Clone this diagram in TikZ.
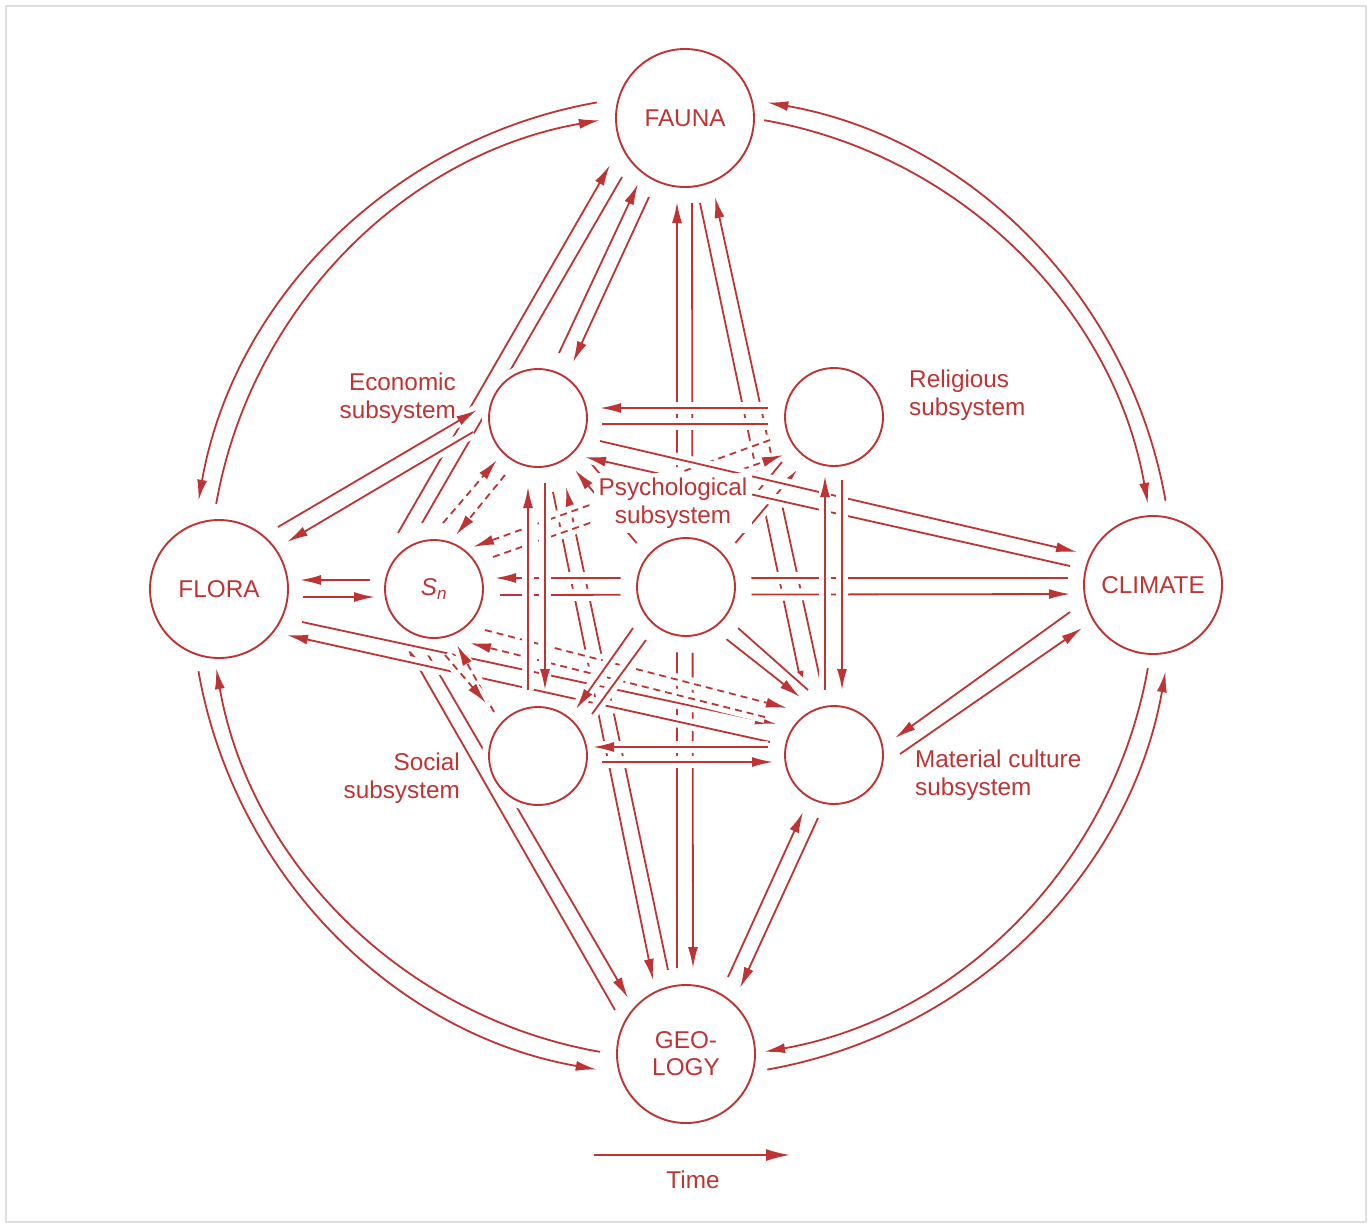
\documentclass[tikz,border=0pt]{standalone}
\usepackage{fontspec}
\setmainfont{Liberation Sans}
\usetikzlibrary{calc,arrows.meta}
\definecolor{rd}{RGB}{190,52,52}
\pgfdeclarelayer{bg}
\pgfsetlayers{bg,main}
\newcommand\mkcirc[6][]{%
  \node[circ,minimum size=#5pt,#1] (#2) at (#3,#4) {#6};%
  \expandafter\gdef\csname nX#2\endcsname{#3}%
  \expandafter\gdef\csname nY#2\endcsname{#4}}
\newcommand\lnkx[7][]{\draw[lnk,#1] ($(#2)+({#3-\csname nX#2\endcsname},{#4-\csname nY#2\endcsname})$) -- ($(#5)+({#6-\csname nX#5\endcsname},{#7-\csname nY#5\endcsname})$);}
\tikzset{
 circ/.style={circle, draw=rd, line width=1.9pt, fill=white, inner sep=0pt, text=rd,
   font=\fontsize{24.3}{27}\selectfont, align=center, preaction={draw=white, line width=14pt}},
 lnk/.style={draw=rd, line width=1.8pt, preaction={draw=white, line width=12pt, -}},
 ar/.style={-{Latex[length=21pt,width=10pt]}},
 dsh/.style={dash pattern=on 7pt off 5pt},
 lbl/.style={text=rd, font=\fontsize{24.3}{27.5}\selectfont, inner sep=0pt},
}
\begin{document}
\begin{tikzpicture}[x=1pt,y=-1pt]
\useasboundingbox (0,0) rectangle (1372,1227);
\draw[black!12, line width=1.5pt] (6,6) rectangle (1366,1222);
% nodes
\mkcirc{fa}{685}{118}{138}{\raisebox{-2pt}{FAUNA}}
\mkcirc{fl}{219}{589}{138}{FLORA}
\mkcirc{cl}{1153}{585}{138}{CLIMATE}
\mkcirc{ge}{686}{1054}{138}{GEO-\\LOGY}
\mkcirc{ec}{538}{418}{98}{}
\mkcirc{re}{834}{417}{98}{}
\mkcirc[preaction={draw=white,line width=34pt}]{ps}{686}{587}{98}{}
\mkcirc{sn}{434}{589}{98}{\itshape S\textsubscript{n}}
\mkcirc{so}{538}{756}{98}{}
\mkcirc{ma}{834}{755}{98}{}
% labels
\node[lbl, anchor=east, align=right] (eclab) at (456,398) {Economic\\subsystem};
\node[lbl, anchor=west, align=left] (relab) at (909,395) {Religious\\subsystem};
\node[lbl, align=center, fill=white, inner sep=5pt] (pslab) at (673,503) {Psychological\\subsystem};
\node[lbl, anchor=east, align=right] (solab) at (460,778) {Social\\subsystem};
\node[lbl, anchor=west, align=left] (malab) at (915,775) {Material culture\\subsystem};
\coordinate (t1) at (594,1155);
\coordinate (t2) at (790,1155);
\draw[rd, line width=1.8pt, -{Latex[length=24pt,width=12pt]}] (t1) -- (t2);
\node[lbl] (time) at (693,1180) {Time};
\coordinate (O) at (682,586);
\begin{pgfonlayer}{bg}
% outer ring
\draw[lnk,ar] ($(O)+(-100:491)$) arc[start angle=-100,end angle=-170,radius=491];
\draw[lnk,ar] ($(O)+(-170:473)$) arc[start angle=-170,end angle=-100,radius=473];
\draw[lnk,ar] ($(O)+(-10:491)$) arc[start angle=-10,end angle=-80,radius=491];
\draw[lnk,ar] ($(O)+(-80:473)$) arc[start angle=-80,end angle=-10,radius=473];
\draw[lnk,ar] ($(O)+(10:473)$) arc[start angle=10,end angle=80,radius=473];
\draw[lnk,ar] ($(O)+(80:491)$) arc[start angle=80,end angle=10,radius=491];
\draw[lnk,ar] ($(O)+(100:473)$) arc[start angle=100,end angle=170,radius=473];
\draw[lnk,ar] ($(O)+(170:491)$) arc[start angle=170,end angle=100,radius=491];
% fauna-geology verticals (lowest)
\lnkx[ar]{ge}{677}{968}{fa}{677}{202}
\lnkx[ar]{fa}{692}{203}{ge}{693}{968}
% long slants
\lnkx[ar]{fa}{700}{203}{ma}{803}{692}
\lnkx[ar]{ma}{822}{688}{fa}{715}{197}
\lnkx[ar]{ec}{553}{492}{ge}{653}{980}
\lnkx[ar]{ge}{668}{970}{ec}{566}{487}
\lnkx[ar]{sn}{398}{533}{fa}{610}{165}
\lnkx{fa}{622}{177}{sn}{422}{523}
\lnkx[ar]{ge}{615}{1010}{sn}{407}{647}
\lnkx[ar]{sn}{427}{653}{ge}{628}{998}
\lnkx[ar]{fl}{302}{622}{ma}{776}{724}
\lnkx[ar]{ma}{770}{742}{fl}{287}{635}
% dashed
\lnkx[ar,dsh]{sn}{443}{523}{ec}{497}{460}
\lnkx[ar,dsh]{ec}{505}{475}{sn}{456}{535}
\lnkx[ar,dsh]{re}{770}{440}{sn}{473}{547}
\lnkx[ar,dsh]{sn}{493}{557}{re}{783}{455}
\lnkx[ar,dsh]{sn}{485}{630}{ma}{787}{708}
\lnkx[ar,dsh]{ma}{765}{717}{sn}{470}{643}
\lnkx[ar,dsh]{so}{494}{712}{sn}{457}{645}
\lnkx[ar,dsh]{sn}{445}{655}{so}{486}{703}
% psychological pairs
\lnkx[ar]{ps}{640}{547}{ec}{575}{470}
\lnkx{ec}{590}{462}{ps}{652}{537}
\lnkx[ar]{ps}{732}{547}{re}{797}{470}
\lnkx{re}{782}{462}{ps}{720}{537}
\lnkx[ar]{ps}{633}{628}{so}{576}{709}
\lnkx{so}{592}{714}{ps}{646}{640}
\lnkx[ar]{ps}{725}{638}{ma}{800}{697}
\lnkx{ma}{808}{690}{ps}{738}{628}
% other pairs
\lnkx[ar]{fl}{278}{527}{ec}{477}{410}
\lnkx[ar]{ec}{473}{432}{fl}{287}{542}
\lnkx[ar]{sn}{370}{580}{fl}{300}{580}
\lnkx[ar]{fl}{303}{597}{sn}{375}{597}
\lnkx[ar]{ec}{559}{353}{fa}{638}{184}
\lnkx[ar]{fa}{649}{197}{ec}{573}{362}
\lnkx[ar]{ec}{600}{441}{cl}{1077}{552}
\lnkx[ar]{cl}{1070}{566}{ec}{585}{457}
\lnkx[ar]{cl}{1070}{612}{ma}{895}{738}
\lnkx[ar]{ma}{900}{754}{cl}{1082}{628}
\lnkx[ar]{ge}{728}{977}{ma}{803}{812}
\lnkx[ar]{ma}{818}{818}{ge}{740}{988}
% horizontals
\lnkx[ar]{re}{768}{408}{ec}{600}{408}
\lnkx{ec}{602}{424}{re}{768}{424}
\lnkx[ar]{cl}{1068}{578}{sn}{495}{578}
\lnkx[ar]{sn}{500}{595}{cl}{1070}{594}
\lnkx[ar]{ma}{768}{747}{so}{593}{747}
\lnkx[ar]{so}{602}{762}{ma}{773}{762}
% verticals on top
\lnkx[ar]{so}{528}{690}{ec}{528}{487}
\lnkx[ar]{ec}{545}{483}{so}{545}{690}
\lnkx[ar]{ma}{825}{690}{re}{825}{476}
\lnkx[ar]{re}{842}{480}{ma}{842}{690}
\end{pgfonlayer}
\end{tikzpicture}
\end{document}
